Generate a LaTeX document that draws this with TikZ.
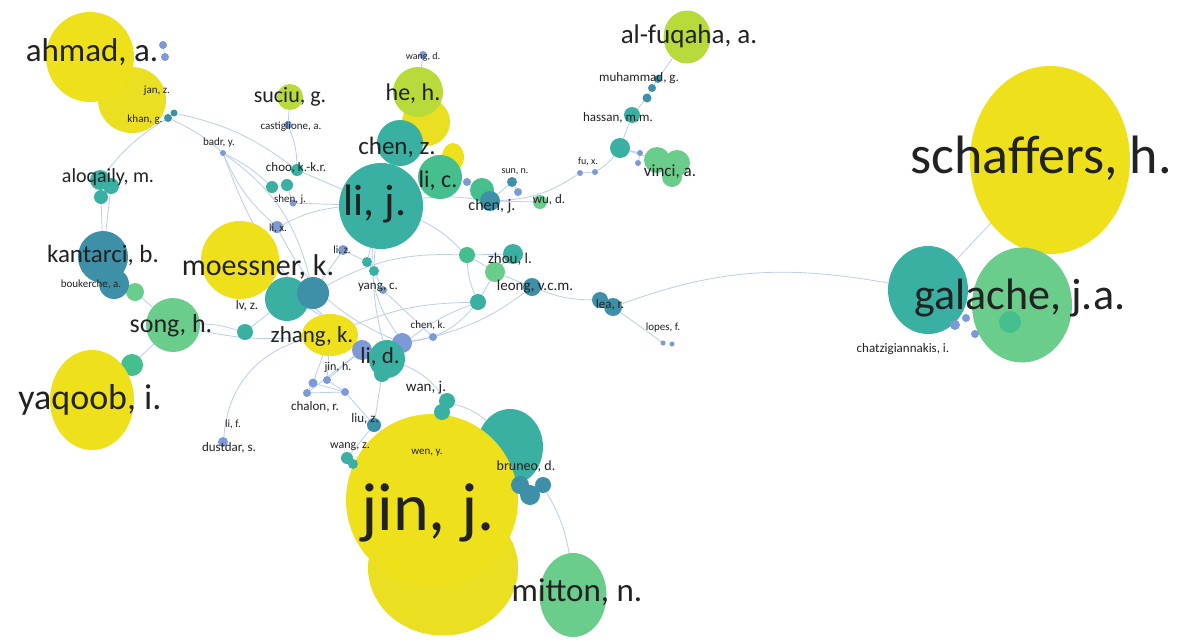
\documentclass[tikz,border=0pt]{standalone}
\usepackage{fontspec}
\setmainfont{Carlito}
\usetikzlibrary{shapes.geometric}
\definecolor{cY}{HTML}{EEE11C}
\definecolor{cY2}{HTML}{EADF20}
\definecolor{cYG}{HTML}{B8DA3A}
\definecolor{cG}{HTML}{6ACD8B}
\definecolor{cG2}{HTML}{46BF8F}
\definecolor{cT}{HTML}{3AB0A2}
\definecolor{cBT}{HTML}{3E90A8}
\definecolor{cB}{HTML}{7D9AD6}
\definecolor{edgec}{HTML}{BACEEC}
\definecolor{txt}{HTML}{222222}
\pgfdeclarelayer{bg}\pgfsetlayers{bg,main}
\newcommand\Blob[6]{\node[nd,minimum width=#4,minimum height=#5,fill=#6] (#1) at (#2,#3) {};}
\newcommand\Lbl[5]{\node[lab,font=\fontsize{#4}{#4}\selectfont] (#1) at (#2,#3) {#5};}
\begin{document}
\begin{tikzpicture}[x=1pt,y=-1pt,
  nd/.style={ellipse,inner sep=0pt,draw=none},
  lab/.style={inner sep=0pt,text=txt},
  ed/.style={draw=edgec,line width=0.8pt}]
\useasboundingbox (0,0) rectangle (1193,643);
% ---------- right cluster
\Blob{sch}{1050}{160}{160}{188}{cY}
\Blob{galT}{928}{290}{80}{88}{cT}
\Blob{galG}{1022}{305}{100}{115}{cG}
\Blob{gs1}{955}{325}{10}{10}{cB}
\Blob{gs2}{966}{318}{8}{8}{cB}
\Blob{gs3}{975}{334}{8}{8}{cB}
\Blob{gs4}{1010}{322}{22}{22}{cG2}
% ---------- jin / bruneo / mitton
\Blob{bru}{510}{447}{66}{76}{cT}
\Blob{jin2}{443}{568}{150}{135}{cY2}
\Blob{jin}{432}{500}{172}{172}{cY}
\Blob{bs1}{530}{495}{20}{20}{cBT}
\Blob{bs2}{543}{485}{16}{16}{cBT}
\Blob{bs3}{520}{485}{18}{18}{cBT}
\Blob{mit}{573}{595}{67}{84}{cG}
% ---------- li, j. group
\Blob{lij}{381}{206}{84}{86}{cT}
\Blob{heh2}{426}{122}{48}{48}{cY2}
\Blob{heh}{418}{92}{50}{50}{cYG}
\Blob{chz}{400}{143}{46}{46}{cT}
\Blob{ysm}{453}{157}{22}{28}{cY}
\Blob{lic}{440}{177}{44}{44}{cG2}
\Blob{wdn}{423}{55}{8}{8}{cB}
\Blob{lcs}{467}{182}{8}{8}{cB}
% ---------- upper middle
\Blob{suc}{290}{97}{26}{26}{cYG}
\Blob{castn}{288}{125}{8}{8}{cB}
\Blob{ch1}{297}{170}{12}{12}{cT}
\Blob{ch2}{272}{187}{12}{12}{cT}
\Blob{ch3}{287}{185}{12}{12}{cT}
\Blob{shn}{293}{203}{7}{7}{cB}
\Blob{lixn}{277}{227}{12}{12}{cB}
\Blob{lizn}{343}{250}{10}{10}{cB}
\Blob{yg1}{367}{262}{10}{10}{cT}
\Blob{yg2}{374}{271}{10}{10}{cT}
\Blob{yg3}{383}{290}{8}{8}{cB}
% ---------- chen j / fu / hassan / al-fuqaha / vinci
\Blob{chjg}{482}{190}{24}{24}{cG2}
\Blob{chjn}{490}{201}{20}{20}{cBT}
\Blob{sun1}{512}{182}{10}{10}{cBT}
\Blob{sun2}{518}{192}{8}{8}{cB}
\Blob{wun}{540}{202}{14}{14}{cG}
\Blob{fu1}{580}{173}{6}{6}{cB}
\Blob{fu2}{595}{172}{6}{6}{cB}
\Blob{has1}{620}{148}{20}{20}{cT}
\Blob{has6}{640}{153}{6}{6}{cB}
\Blob{has7}{638}{163}{6}{6}{cB}
\Blob{has2}{632}{115}{16}{16}{cT}
\Blob{has3}{647}{98}{9}{9}{cBT}
\Blob{has4}{652}{88}{8}{8}{cBT}
\Blob{has5}{658}{79}{8}{8}{cBT}
\Blob{alf}{687}{37}{47}{53}{cYG}
\Blob{vin1}{657}{160}{26}{26}{cG}
\Blob{vin2}{677}{163}{26}{26}{cG}
\Blob{vin3}{672}{177}{20}{20}{cG}
% ---------- zhou / leong / lea
\Blob{zh1}{467}{255}{16}{16}{cG2}
\Blob{zh2}{513}{254}{20}{20}{cT}
\Blob{le1}{495}{272}{20}{20}{cG}
\Blob{le2}{532}{287}{18}{18}{cBT}
\Blob{le3}{478}{302}{16}{16}{cT}
\Blob{lea1}{600}{300}{16}{16}{cBT}
\Blob{lea2}{613}{307}{18}{18}{cBT}
\Blob{lop1}{663}{343}{5}{5}{cB}
\Blob{lop2}{672}{344}{5}{5}{cB}
% ---------- li, d. / zhang / moessner
\Blob{moe}{240}{260}{78}{78}{cY}
\Blob{moeT1}{287}{299}{44}{44}{cT}
\Blob{moeT2}{313}{293}{32}{32}{cBT}
\Blob{zhang}{330}{335}{56}{42}{cY}
\Blob{ld1}{362}{350}{20}{20}{cB}
\Blob{ld2}{402}{343}{20}{20}{cB}
\Blob{lid}{387}{359}{36}{38}{cT}
\Blob{ld3}{382}{374}{16}{16}{cT}
\Blob{chkn}{433}{337}{8}{8}{cB}
\Blob{lvn}{245}{332}{16}{16}{cT}
\Blob{jh1}{313}{383}{9}{9}{cB}
\Blob{jh2}{307}{393}{8}{8}{cB}
\Blob{jh3}{327}{380}{8}{8}{cB}
\Blob{jh4}{345}{392}{8}{8}{cB}
\Blob{wan1}{447}{401}{16}{16}{cT}
\Blob{wan2}{442}{412}{16}{16}{cT}
\Blob{liun}{374}{425}{14}{14}{cBT}
\Blob{wgz1}{347}{458}{12}{12}{cT}
\Blob{wgz2}{353}{464}{10}{10}{cT}
\Blob{dusn}{223}{442}{10}{10}{cB}
% ---------- left column
\Blob{song}{173}{325}{54}{54}{cG}
\Blob{sgs1}{135}{292}{18}{18}{cG}
\Blob{ysg}{132}{365}{22}{22}{cG2}
\Blob{yaq}{92}{400}{84}{100}{cY}
\Blob{kan1}{103}{257}{50}{52}{cBT}
\Blob{kan2}{114}{284}{30}{30}{cBT}
\Blob{alo1}{100}{180}{20}{20}{cT}
\Blob{alo2}{111}{186}{16}{16}{cT}
\Blob{alo3}{101}{197}{14}{14}{cT}
\Blob{ahm2}{132}{100}{68}{66}{cY2}
\Blob{ahm}{90}{57}{88}{90}{cY}
\Blob{ahs1}{163}{45}{8}{8}{cB}
\Blob{ahs2}{165}{57}{8}{8}{cB}
\Blob{khn1}{168}{118}{8}{8}{cBT}
\Blob{khn2}{174}{113}{7}{7}{cBT}
\Blob{badr}{223}{153}{6}{6}{cB}
% ---------- edges
\begin{pgfonlayer}{bg}
\fill[white] (0,0) rectangle (1193,643);
\draw[ed] (sch) -- (galT);
\draw[ed] (lea2) to[out=20,in=170] (galT);
\draw[ed] (lea2) -- (lop1);
\draw[ed] (le2) to[bend right=10] (lea1);
\draw[ed] (le1) -- (le2);
\draw[ed] (zh2) -- (le1);
\draw[ed] (zh1) -- (le1);
\draw[ed] (zh1) -- (zh2);
\draw[ed] (lij) to[bend left=10] (zh1);
\draw[ed] (lij) to[bend left=8] (chjn);
\draw[ed] (lic) -- (lcs) -- (chjn);
\draw[ed] (chjn) -- (wun);
\draw[ed] (sun1) -- (chjn);
\draw[ed] (sun1) -- (sun2);
\draw[ed] (chjn) to[bend right=15] (fu1);
\draw[ed] (fu1) -- (fu2);
\draw[ed] (fu2) to[bend right=10] (has1);
\draw[ed] (has1) -- (has2);
\draw[ed] (has2) -- (has3);
\draw[ed] (has3) -- (has4);
\draw[ed] (has4) -- (has5);
\draw[ed] (has5) -- (alf);
\draw[ed] (has1) -- (vin1);
\draw[ed] (has1) -- (has6);
\draw[ed] (has6) -- (has7);
\draw[ed] (heh) -- (wdn);
\draw[ed] (castn) -- (suc);
\draw[ed] (castn) to[bend left=10] (ch1);
\draw[ed] (ch1) -- (lij);
\draw[ed] (ch2) -- (ch3);
\draw[ed] (ch3) -- (shn);
\draw[ed] (shn) -- (lij);
\draw[ed] (lixn) to[bend left=10] (lij);
\draw[ed] (lizn) -- (yg1);
\draw[ed] (yg1) -- (lij);
\draw[ed] (yg1) -- (yg2);
\draw[ed] (yg2) -- (yg3);
\draw[ed] (yg3) -- (chkn);
\draw[ed] (chkn) to[bend right=10] (le2);
\draw[ed] (ld2) -- (chkn);
\draw[ed] (lij) to[bend right=10] (lid);
\draw[ed] (lid) to[bend left=10] (le3);
\draw[ed] (le3) -- (le1);
\draw[ed] (le3) to[bend left=10] (zh1);
\draw[ed] (moeT2) -- (lizn);
\draw[ed] (moeT2) to[bend left=15] (zh1);
\draw[ed] (zhang) to[bend left=10] (le3);
\draw[ed] (lixn) to[bend right=20] (ld2);
\draw[ed] (ahm2) -- (khn1);
\draw[ed] (khn1) -- (khn2);
\draw[ed] (ahs1) -- (ahs2);
\draw[ed] (khn1) to[bend left=8] (badr);
\draw[ed] (khn2) to[bend left=12] (ch1);
\draw[ed] (badr) to[bend left=8] (ch2);
\draw[ed] (badr) to[bend right=12] (lixn);
\draw[ed] (badr) to[bend right=15] (ld1);
\draw[ed] (badr) to[bend left=20] (moeT2);
\draw[ed] (khn1) to[bend right=10] (alo1);
\draw[ed] (alo3) -- (kan1);
\draw[ed] (alo2) -- (kan1);
\draw[ed] (kan2) -- (sgs1);
\draw[ed] (sgs1) -- (song);
\draw[ed] (song) -- (ysg);
\draw[ed] (song) to[bend left=8] (lvn);
\draw[ed] (lvn) -- (moeT1);
\draw[ed] (song) to[bend right=8] (zhang);
\draw[ed] (zhang) to[bend right=35] (dusn);
\draw[ed] (zhang) -- (jh1);
\draw[ed] (zhang) -- (jh3);
\draw[ed] (jh1) -- (jh2);
\draw[ed] (jh1) -- (jh4);
\draw[ed] (jh2) -- (jh4);
\draw[ed] (jh3) -- (jh4);
\draw[ed] (jh2) -- (ld1);
\draw[ed] (jh3) -- (ld1);
\draw[ed] (jh4) -- (liun);
\draw[ed] (ld3) -- (liun);
\draw[ed] (liun) -- (wgz1);
\draw[ed] (wgz1) -- (wgz2);
\draw[ed] (lid) to[bend left=15] (wan1);
\draw[ed] (wan1) -- (wan2);
\draw[ed] (wan1) to[bend left=12] (bru);
\draw[ed] (bs2) to[bend left=10] (mit);
\draw[ed] (moeT1) to[bend left=10] (ld1);
\draw[ed] (ld2) to[bend right=20] (le3);
\draw[ed] (lij) to[bend right=20] (ld2);
\end{pgfonlayer}
% ---------- labels
\Lbl{tsch}{1041}{158}{54}{schaffers, h.}
\Lbl{tgal}{1020}{298}{44}{galache, j.a.}
\Lbl{tcha}{903}{349}{13}{chatzigiannakis, i.}
\Lbl{tjin}{428}{513}{68}{jin, j.}
\Lbl{twen}{427}{453}{11}{wen, y.}
\Lbl{tbru}{526}{467}{14}{bruneo, d.}
\Lbl{tmit}{577}{592}{33}{mitton, n.}
\Lbl{tlij}{375}{204}{44}{li, j.}
\Lbl{tchz}{397}{147}{25}{chen, z.}
\Lbl{theh}{413}{94}{24}{he, h.}
\Lbl{tlic}{438}{181}{24}{li, c.}
\Lbl{twd}{423}{57}{10}{wang, d.}
\Lbl{tsuc}{290}{97}{22}{suciu, g.}
\Lbl{tcas}{291}{127}{11}{castiglione, a.}
\Lbl{tchoo}{296}{168}{13}{choo, k.-k.r.}
\Lbl{tshen}{290}{200}{11}{shen, j.}
\Lbl{tlix}{278}{228}{11}{li, x.}
\Lbl{tliz}{342}{250}{11}{li, z.}
\Lbl{tyang}{378}{287}{13}{yang, c.}
\Lbl{tchk}{428}{325}{11}{chen, k.}
\Lbl{tlid}{380}{357}{23}{li, d.}
\Lbl{tzha}{312}{336}{23}{zhang, k.}
\Lbl{tmoe}{258}{267}{30}{moessner, k.}
\Lbl{tlv}{247}{306}{13}{lv, z.}
\Lbl{tsong}{171}{326}{26}{song, h.}
\Lbl{tyaq}{90}{400}{36}{yaqoob, i.}
\Lbl{tkan}{103}{255}{25}{kantarci, b.}
\Lbl{tbou}{91}{284}{11}{boukerche, a.}
\Lbl{talo}{108}{177}{20}{aloqaily, m.}
\Lbl{tahm}{92}{52}{33}{ahmad, a.}
\Lbl{tjan}{157}{91}{11}{jan, z.}
\Lbl{tkhan}{145}{120}{11}{khan, g.}
\Lbl{tbadr}{219}{143}{11}{badr, y.}
\Lbl{talf}{689}{36}{27}{al-fuqaha, a.}
\Lbl{tmuh}{639}{78}{13}{muhammad, g.}
\Lbl{thas}{618}{118}{13}{hassan, m.m.}
\Lbl{tvin}{670}{172}{17}{vinci, a.}
\Lbl{tfu}{588}{162}{10}{fu, x.}
\Lbl{tsun}{515}{172}{10}{sun, n.}
\Lbl{twu}{549}{200}{13}{wu, d.}
\Lbl{tchj}{492}{206}{16}{chen, j.}
\Lbl{tzhou}{510}{259}{15}{zhou, l.}
\Lbl{tleo}{535}{287}{15}{leong, v.c.m.}
\Lbl{tlea}{610}{305}{13}{lea, r.}
\Lbl{tlop}{663}{328}{11}{lopes, f.}
\Lbl{twan}{426}{388}{15}{wan, j.}
\Lbl{tjh}{338}{367}{12}{jin, h.}
\Lbl{tchal}{315}{407}{13}{chalon, r.}
\Lbl{tlif}{233}{424}{11}{li, f.}
\Lbl{tdus}{229}{448}{13}{dustdar, s.}
\Lbl{twz}{350}{447}{12}{wang, z.}
\Lbl{tliu}{365}{419}{13}{liu, z.}
\end{tikzpicture}
\end{document}
